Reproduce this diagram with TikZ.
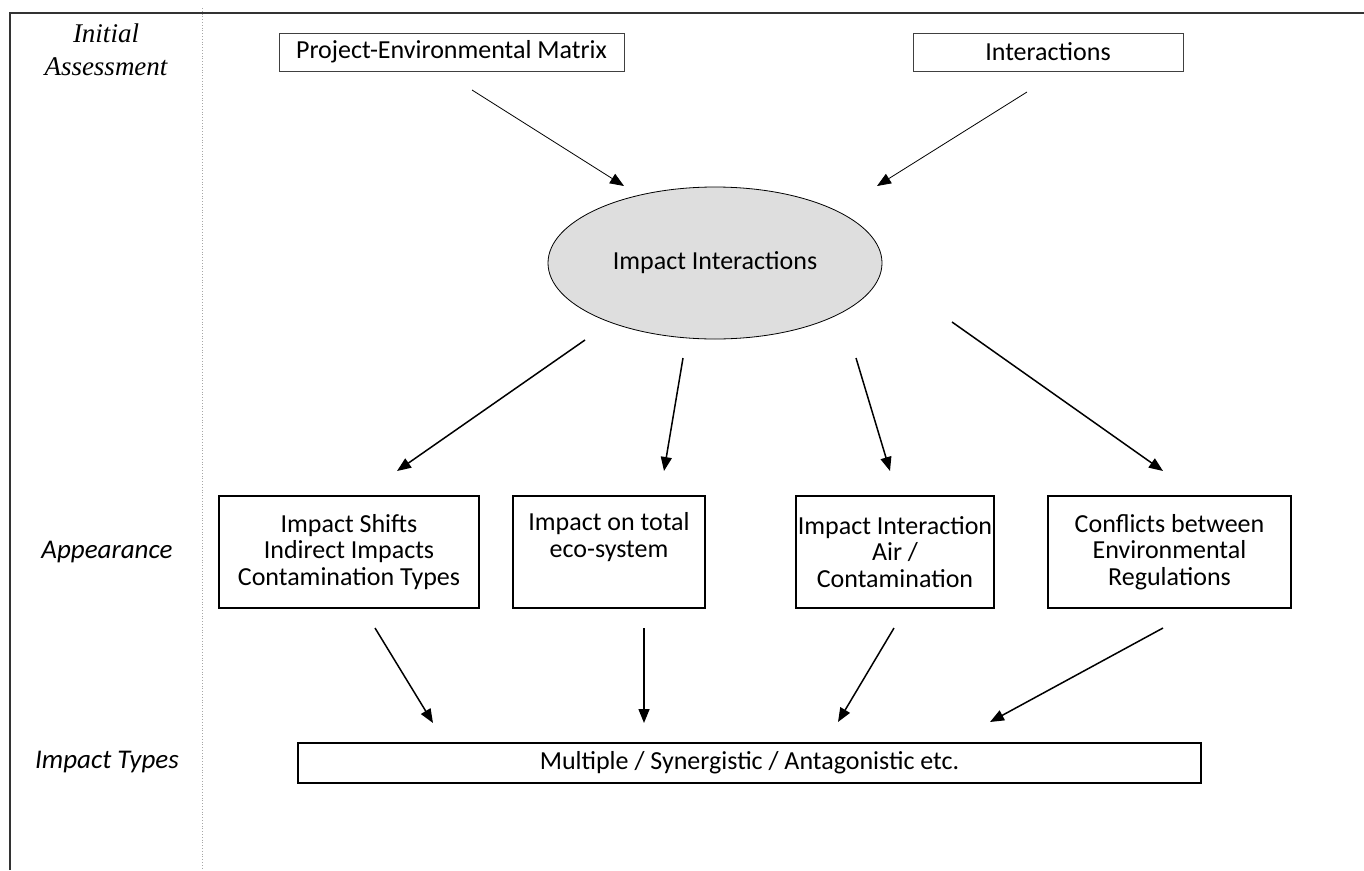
\documentclass[tikz,border=0pt]{standalone}
\usepackage{fontspec}
\setmainfont{Carlito}
\newfontfamily\tnr{Liberation Serif}
\usetikzlibrary{arrows.meta,shapes.geometric}
\begin{document}
\begin{tikzpicture}[x=1pt,y=-1pt,
  txt/.style={font=\fontsize{26}{26.5}\selectfont},
  topbox/.style={draw=black!75,line width=0.8pt,rectangle,inner sep=0pt,minimum height=38pt,txt},
  midbox/.style={draw=black,line width=1.7pt,rectangle,inner sep=0pt,minimum height=112pt,align=center,txt},
  thinarrow/.style={draw=black,line width=0.8pt,-{Triangle[length=14pt,width=11pt]}},
  thickarrow/.style={draw=black,line width=1.5pt,-{Triangle[length=14pt,width=11pt]}},
  rowlabel/.style={font=\fontsize{27}{27}\selectfont\itshape,align=center}]
\useasboundingbox (0,0) rectangle (1364,870);
% frame
\draw[line width=2pt,black!80] (10,870) -- (10,13) -- (1364,13);
\draw[black!35,dotted,line width=0.8pt] (202,8) -- (202,870);
% row labels
\node[font=\fontsize{27}{33}\selectfont\tnr\itshape,align=center] (l1) at (106,50) {Initial\\Assessment};
\node[rowlabel] (l2) at (107,552) {Appearance};
\node[rowlabel] (l3) at (107,762) {Impact Types};
% top boxes
\node[topbox,minimum width=345pt] (pem) at (451.5,52) {\raisebox{-1.5pt}{Project-Environmental Matrix}};
\node[topbox,minimum width=270pt] (int) at (1048,52) {Interactions};
% ellipse
\node[ellipse,draw=black,line width=0.8pt,fill=black!13,minimum width=334pt,minimum height=152pt,inner sep=0pt,txt] (ii) at (715,263) {Impact Interactions};
% middle boxes
\node[midbox,minimum width=260pt] (b1) at (349,552) {Impact Shifts\\Indirect Impacts\\Contamination Types};
\node[midbox,minimum width=192pt] (b2) at (609,552) {Impact on total\\eco-system\\\strut};
\node[midbox,minimum width=198pt] (b3) at (895,552) {Impact Interaction\\Air /\\Contamination};
\node[midbox,minimum width=243pt] (b4) at (1169.5,552) {Conflicts between\\Environmental\\Regulations};
% bottom box
\node[draw=black,line width=1.7pt,rectangle,inner sep=0pt,minimum width=903pt,minimum height=40pt,txt] (mt) at (749.5,763) {Multiple / Synergistic / Antagonistic etc.};
% connector end points
\coordinate (pemS) at (472,90);  \coordinate (pemE) at (624,186);
\coordinate (intS) at (1027,92); \coordinate (intE) at (877,186);
\coordinate (i1S) at (585,340); \coordinate (i1E) at (397,471);
\coordinate (i2S) at (683,358); \coordinate (i2E) at (664,471);
\coordinate (i3S) at (856,358); \coordinate (i3E) at (890,471);
\coordinate (i4S) at (952,322); \coordinate (i4E) at (1163,471);
\coordinate (b1S) at (375,628); \coordinate (b1E) at (433,723);
\coordinate (b2S) at (644,628); \coordinate (b2E) at (644,723);
\coordinate (b3S) at (894,628); \coordinate (b3E) at (838,722);
\coordinate (b4S) at (1163,628); \coordinate (b4E) at (990,722);
\draw[thinarrow] (pemS) -- (pemE);
\draw[thinarrow] (intS) -- (intE);
\draw[thickarrow] (i1S) -- (i1E);
\draw[thickarrow] (i2S) -- (i2E);
\draw[thickarrow] (i3S) -- (i3E);
\draw[thickarrow] (i4S) -- (i4E);
\draw[thickarrow] (b1S) -- (b1E);
\draw[thickarrow] (b2S) -- (b2E);
\draw[thickarrow] (b3S) -- (b3E);
\draw[thickarrow] (b4S) -- (b4E);
\end{tikzpicture}
\end{document}
